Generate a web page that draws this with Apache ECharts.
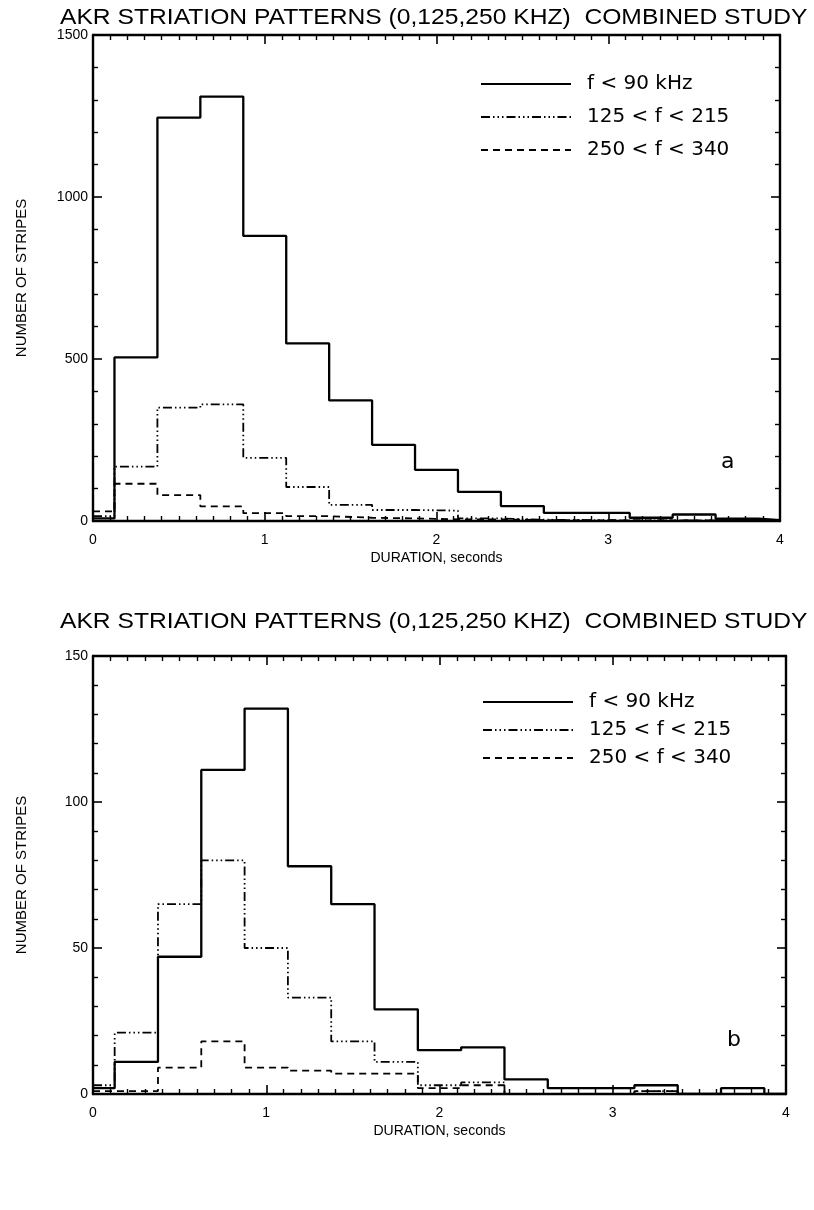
<!DOCTYPE html>
<html>
<head>
<meta charset="utf-8">
<script src="https://cdn.jsdelivr.net/npm/echarts@6/dist/echarts.min.js"></script>
<style>
  html, body { margin: 0; padding: 0; background: #fff; }
  #main { width: 814px; height: 1210px; }
</style>
</head>
<body>
<div id="main"></div>
<script>
// bin edges (seconds), last bin clipped at 4
var binEdges = [0, 0.125, 0.375, 0.625, 0.875, 1.125, 1.375, 1.625, 1.875, 2.125, 2.375, 2.625, 2.875, 3.125, 3.375, 3.625, 3.875, 4];

var seriesNames = ['f < 90 kHz', '125 < f < 215', '250 < f < 340'];

// panel a
var lowA  = [8, 505, 1245, 1310, 880, 548, 372, 235, 158, 90, 46, 25, 25, 10, 20, 7, 3];
var midA  = [15, 168, 350, 360, 195, 105, 50, 34, 32, 8, 4, 3, 2, 2, 2, 2, 1];
var highA = [30, 115, 80, 45, 24, 15, 10, 8, 5, 5, 3, 2, 2, 2, 2, 1, 1];

// panel b
var lowB  = [2, 11, 47, 111, 132, 78, 65, 29, 15, 16, 5, 2, 2, 3, 0, 2, 0];
var midB  = [3, 21, 65, 80, 50, 33, 18, 11, 3, 4, 0, 0, 0, 1, 0, 0, 0];
var highB = [1, 1, 9, 18, 9, 8, 7, 7, 2, 3, 0, 0, 0, 1, 0, 0, 0];

var xTicks = [0, 1, 2, 3, 4];
var yTicksA = [0, 500, 1000, 1500];
var yTicksB = [0, 50, 100, 150];

var titleText = 'AKR STRIATION PATTERNS (0,125,250 KHZ)  COMBINED STUDY';
var labelFont = 'Liberation Sans';
var legendFont = 'DejaVu Sans';

function stepData(vals) {
  var pts = [];
  for (var i = 0; i < binEdges.length; i++) {
    var v = i < vals.length ? vals[i] : vals[vals.length - 1];
    pts.push([binEdges[i], v]);
  }
  return pts;
}

var styles = [
  { type: 'solid', width: 2.3 },
  { type: [9, 3, 1.5, 3, 1.5, 3, 1.5, 3], width: 1.8 },
  { type: [7, 5], width: 1.8 }
];

function plainNum(v) { return String(v); }

function axisCommon(pos, showLabel) {
  return {
    position: pos,
    axisLine: { show: true, onZero: false, lineStyle: { color: '#000', width: 2.4 } },
    axisTick: { show: true, inside: true, length: 9, lineStyle: { color: '#000', width: 1.6 } },
    minorTick: { show: true, length: 5, lineStyle: { color: '#000', width: 1.4 } },
    splitLine: { show: false },
    axisLabel: { show: showLabel, color: '#000', fontFamily: labelFont, fontSize: 14, formatter: plainNum }
  };
}

function xAxes(gi) {
  var b = axisCommon('bottom', true);
  b.type = 'value'; b.gridIndex = gi; b.min = xTicks[0]; b.max = xTicks[xTicks.length - 1]; b.interval = 1;
  b.minorTick.splitNumber = 10;
  b.axisLabel.margin = 12;
  b.name = 'DURATION, seconds';
  b.nameLocation = 'middle';
  b.nameGap = 30;
  b.nameTextStyle = { color: '#000', fontFamily: labelFont, fontSize: 14 };
  var t = axisCommon('top', false);
  t.type = 'value'; t.gridIndex = gi; t.min = xTicks[0]; t.max = xTicks[xTicks.length - 1]; t.interval = 1;
  t.minorTick.splitNumber = 10;
  return [b, t];
}

function yAxes(gi, ticks) {
  var step = ticks[1] - ticks[0];
  var l = axisCommon('left', true);
  l.type = 'value'; l.gridIndex = gi; l.min = ticks[0]; l.max = ticks[ticks.length - 1]; l.interval = step;
  l.minorTick.splitNumber = 5;
  l.axisLabel.margin = 5;
  l.name = 'NUMBER OF STRIPES';
  l.nameLocation = 'middle';
  l.nameGap = 64;
  l.nameRotate = 90;
  l.nameTextStyle = { color: '#000', fontFamily: labelFont, fontSize: 15 };
  var r = axisCommon('right', false);
  r.type = 'value'; r.gridIndex = gi; r.min = ticks[0]; r.max = ticks[ticks.length - 1]; r.interval = step;
  r.minorTick.splitNumber = 5;
  return [l, r];
}

function makeSeries(vals, idx, gi) {
  return {
    name: seriesNames[idx],
    type: 'line',
    step: 'end',
    xAxisIndex: gi * 2,
    yAxisIndex: gi * 2,
    data: stepData(vals),
    symbol: 'none',
    color: '#000',
    silent: true,
    animation: false,
    lineStyle: { color: '#000', width: styles[idx].width, type: styles[idx].type },
    z: 3 - idx
  };
}

function legendAt(left, top, gap) {
  return {
    left: left, top: top, orient: 'vertical',
    data: seriesNames,
    itemWidth: 90, itemHeight: 16, itemGap: gap,
    selectedMode: false,
    itemStyle: { opacity: 0 },
    textStyle: { color: '#000', fontFamily: legendFont, fontSize: 20, padding: [0, 0, 0, 11] }
  };
}

function titleText2(y) {
  return {
    type: 'text', x: 60, y: y, scaleX: 1.12,
    style: { text: titleText, fill: '#000', font: 'normal 22px "Liberation Sans"' }
  };
}

var chartDom = document.getElementById('main');
var myChart = echarts.init(chartDom, null, { renderer: 'canvas' });
var option;

option = {
  backgroundColor: '#fff',
  animation: false,
  title: [
    { text: 'a', left: 716, top: 446, textStyle: { fontFamily: legendFont, fontWeight: 'normal', fontSize: 22, color: '#000' } },
    { text: 'b', left: 722, top: 1024, textStyle: { fontFamily: legendFont, fontWeight: 'normal', fontSize: 22, color: '#000' } }
  ],
  graphic: [titleText2(7), titleText2(611)],
  legend: [
    legendAt(475, 69, 13),
    legendAt(477, 687, 8)
  ],
  grid: [
    { left: 93, right: 34, top: 35, height: 486 },
    { left: 93, right: 28, top: 656, height: 438 }
  ],
  xAxis: xAxes(0).concat(xAxes(1)),
  yAxis: yAxes(0, yTicksA).concat(yAxes(1, yTicksB)),
  series: [
    makeSeries(lowA, 0, 0),
    makeSeries(midA, 1, 0),
    makeSeries(highA, 2, 0),
    makeSeries(lowB, 0, 1),
    makeSeries(midB, 1, 1),
    makeSeries(highB, 2, 1)
  ]
};

option && myChart.setOption(option);
</script>
</body>
</html>
